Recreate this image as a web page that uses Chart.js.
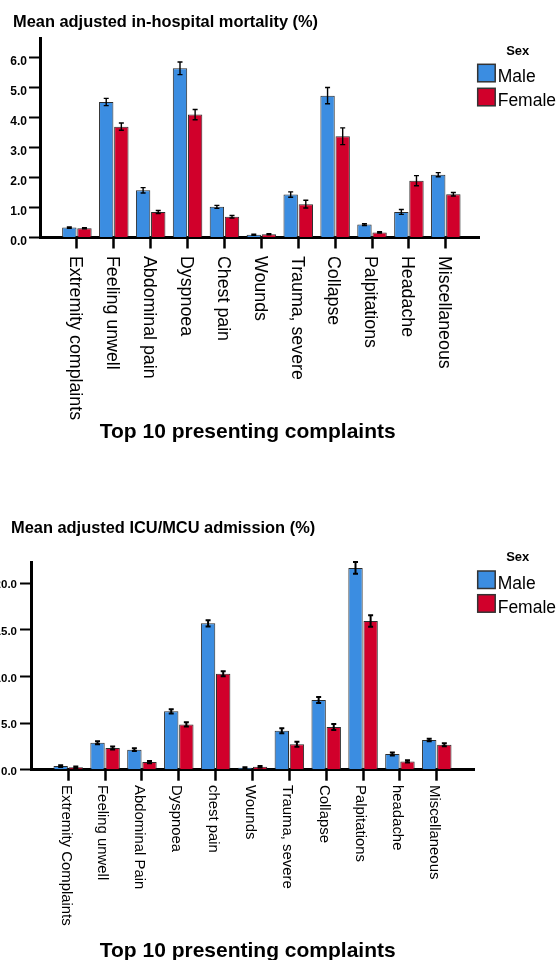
<!DOCTYPE html>
<html>
<head>
<meta charset="utf-8">
<script src="https://cdn.jsdelivr.net/npm/chart.js@4.4.0/dist/chart.umd.min.js"></script>
<style>
  html, body { margin: 0; padding: 0; background: #fff; }
  #wrap { position: relative; width: 558px; height: 960px; overflow: hidden; }
  canvas { position: absolute; left: 0; }
  #mortality { top: 0; }
  #icu { top: 480px; }
</style>
</head>
<body>
<div id="wrap">
  <canvas id="mortality" width="558" height="460"></canvas>
  <canvas id="icu" width="558" height="480"></canvas>
</div>
<script>
// --- data ---
const sexLabels = ['Male', 'Female'];

const mortalityComplaints = ['Extremity complaints', 'Feeling unwell', 'Abdominal pain', 'Dyspnoea', 'Chest pain',
    'Wounds', 'Trauma, severe', 'Collapse', 'Palpitations', 'Headache', 'Miscellaneous'];
const mortalityMale = [0.33, 4.51, 1.57, 5.63, 1.02, 0.09, 1.43, 4.72, 0.43, 0.85, 2.09];
const mortalityFemale = [0.31, 3.69, 0.85, 4.09, 0.69, 0.11, 1.11, 3.37, 0.17, 1.89, 1.44];
const mortalityMaleErr = [0.02, 0.12, 0.09, 0.21, 0.05, 0.02, 0.09, 0.27, 0.03, 0.08, 0.07];
const mortalityFemaleErr = [0.02, 0.12, 0.05, 0.17, 0.04, 0.02, 0.13, 0.28, 0.02, 0.17, 0.06];
const mortalityTicks = ['0.0', '1.0', '2.0', '3.0', '4.0', '5.0', '6.0'];

const icuComplaints = ['Extremity Complaints', 'Feeling unwell', 'Abdominal Pain', 'Dyspnoea', 'chest pain',
    'Wounds', 'Trauma, severe', 'Collapse', 'Palpitations', 'headache', 'Miscellaneous'];
const icuMale = [0.39, 2.90, 2.15, 6.26, 15.70, 0.21, 4.18, 7.47, 21.64, 1.68, 3.18];
const icuFemale = [0.25, 2.32, 0.82, 4.86, 10.30, 0.32, 2.72, 4.58, 15.95, 0.89, 2.68];
const icuMaleErr = [0.10, 0.16, 0.14, 0.23, 0.34, 0.06, 0.27, 0.32, 0.63, 0.16, 0.14];
const icuFemaleErr = [0.08, 0.16, 0.12, 0.23, 0.27, 0.08, 0.27, 0.32, 0.61, 0.12, 0.16];
const icuTicks = ['0.0', '5.0', '10.0', '15.0', '20.0'];

const FONT = '"Liberation Sans", Arial, sans-serif';
const BLUE = '#3b8de1';
const RED = '#d1002b';

// error bars drawn on top of the bars
const errorBars = {
    id: 'errorBars',
    afterDatasetsDraw(chart, args, opts) {
        const { ctx } = chart;
        const ys = chart.scales.y;
        ctx.save();
        ctx.strokeStyle = '#000';
        ctx.lineWidth = opts.width;
        chart.data.datasets.forEach((ds, di) => {
            chart.getDatasetMeta(di).data.forEach((bar, i) => {
                const v = ds.data[i].y, e = ds.errors[i];
                const top = ys.getPixelForValue(v + e);
                const bot = ys.getPixelForValue(v - e);
                ctx.beginPath();
                ctx.moveTo(bar.x, top); ctx.lineTo(bar.x, bot);
                ctx.moveTo(bar.x - opts.cap, top); ctx.lineTo(bar.x + opts.cap, top);
                ctx.moveTo(bar.x - opts.cap, bot); ctx.lineTo(bar.x + opts.cap, bot);
                ctx.stroke();
            });
        });
        ctx.restore();
    }
};

// chart title, category labels turned clockwise, axis title
const textLayer = {
    id: 'textLayer',
    afterDraw(chart, args, opts) {
        const { ctx, chartArea } = chart;
        const xs = chart.scales.x;
        ctx.save();
        ctx.fillStyle = '#000';
        ctx.textBaseline = 'alphabetic';

        ctx.font = 'bold 16.4px ' + FONT;
        ctx.textAlign = 'left';
        ctx.fillText(opts.title, opts.titleX, opts.titleY);

        ctx.font = opts.size + 'px ' + FONT;
        chart.data.labels.forEach((label, i) => {
            ctx.save();
            ctx.translate(xs.getPixelForValue(i), chartArea.bottom + opts.gap);
            ctx.rotate(Math.PI / 2);
            ctx.fillText(label, 0, opts.shift);
            ctx.restore();
        });

        ctx.font = 'bold 21px ' + FONT;
        ctx.textAlign = 'center';
        ctx.fillText(opts.axisTitle, opts.axisTitleX, opts.axisTitleY);
        ctx.restore();
    }
};

// "Sex" legend to the right
const sexLegend = {
    id: 'sexLegend',
    afterDraw(chart, args, opts) {
        const { ctx } = chart;
        ctx.save();
        ctx.fillStyle = '#000';
        ctx.textBaseline = 'alphabetic';
        ctx.font = 'bold 13px ' + FONT;
        ctx.textAlign = 'center';
        ctx.fillText(opts.title, opts.x + 40, opts.y);
        ctx.font = '17.5px ' + FONT;
        ctx.textAlign = 'left';
        chart.data.datasets.forEach((ds, i) => {
            const top = opts.y + opts.first + i * opts.row;
            ctx.fillStyle = ds.backgroundColor;
            ctx.fillRect(opts.x, top, 17.5, 17.5);
            ctx.strokeStyle = '#333';
            ctx.lineWidth = 1.5;
            ctx.strokeRect(opts.x, top, 17.5, 17.5);
            ctx.fillStyle = '#000';
            ctx.fillText(ds.label, opts.x + 20, top + 17.8);
        });
        ctx.restore();
    }
};

function points(values) {
    return values.map((v, i) => ({ x: i, y: v }));
}

function makeChart(el, cfg) {
    return new Chart(el, {
        type: 'bar',
        data: {
            labels: cfg.labels,
            datasets: [
                { label: sexLabels[0], data: points(cfg.male), errors: cfg.maleErr, backgroundColor: BLUE },
                { label: sexLabels[1], data: points(cfg.female), errors: cfg.femaleErr, backgroundColor: RED }
            ]
        },
        options: {
            responsive: false,
            animation: false,
            devicePixelRatio: 1,
            layout: { padding: { left: 0, right: cfg.padRight, top: cfg.padTop, bottom: 0 } },
            datasets: {
                bar: {
                    categoryPercentage: 0.82,
                    barPercentage: 0.95,
                    borderColor: '#2b2b2b',
                    borderWidth: 1
                }
            },
            plugins: {
                legend: { display: false },
                tooltip: { enabled: false },
                title: { display: false },
                errorBars: { width: cfg.errWidth, cap: 2.5 },
                textLayer: cfg.text,
                sexLegend: cfg.legend
            },
            scales: {
                x: {
                    type: 'linear',
                    offset: false,
                    min: cfg.xMin,
                    max: cfg.xMax,
                    ticks: { display: false, stepSize: 1, includeBounds: false },
                    afterBuildTicks: s => { s.ticks = s.ticks.filter(t => t.value >= 0 && t.value < cfg.labels.length); },
                    afterFit: s => { s.height = cfg.xHeight; },
                    grid: { display: true, offset: false, drawOnChartArea: false, drawTicks: true, tickLength: 11, tickWidth: 2.5, tickColor: '#000' },
                    border: { display: true, color: '#000', width: 3 }
                },
                y: {
                    min: 0,
                    max: cfg.yMax,
                    ticks: {
                        stepSize: cfg.yStep,
                        includeBounds: false,
                        callback: (v, i) => cfg.yTicks[i],
                        color: '#000',
                        font: { family: FONT, size: cfg.yFont, weight: 'bold' },
                        padding: cfg.yPad,
                        labelOffset: cfg.yLabelOffset
                    },
                    afterFit: s => { s.width = cfg.yWidth; },
                    grid: { display: true, drawOnChartArea: false, drawTicks: true, tickLength: 11, tickWidth: 2, tickColor: '#000' },
                    border: { display: true, color: '#000', width: 3 }
                }
            }
        },
        plugins: [errorBars, textLayer, sexLegend]
    });
}

makeChart(document.getElementById('mortality'), {
    labels: mortalityComplaints,
    male: mortalityMale, female: mortalityFemale,
    maleErr: mortalityMaleErr, femaleErr: mortalityFemaleErr,
    yTicks: mortalityTicks, yMax: 6.64, yStep: 1, yFont: 12, yPad: 2, yLabelOffset: 4, yWidth: 40,
    xMin: -1.0, xMax: 10.9, xHeight: 222.5,
    padRight: 79, padTop: 38,
    errWidth: 1.4,
    text: {
        title: 'Mean adjusted in-hospital mortality (%)', titleX: 13, titleY: 27.1,
        size: 17.8, gap: 18.5, shift: 6.7,
        axisTitle: 'Top 10 presenting complaints', axisTitleX: 247.7, axisTitleY: 438.3
    },
    legend: { title: 'Sex', x: 477.7, y: 54.5, first: 9.8, row: 24 }
});

makeChart(document.getElementById('icu'), {
    labels: icuComplaints,
    male: icuMale, female: icuFemale,
    maleErr: icuMaleErr, femaleErr: icuFemaleErr,
    yTicks: icuTicks, yMax: 22.25, yStep: 5, yFont: 11.5, yPad: 3, yLabelOffset: 2, yWidth: 31,
    xMin: -1.01, xMax: 11.01, xHeight: 190.3,
    padRight: 84, padTop: 82.3,
    errWidth: 2,
    text: {
        title: 'Mean adjusted ICU/MCU admission (%)', titleX: 11, titleY: 52.9,
        size: 14.9, gap: 15.3, shift: 6.6,
        axisTitle: 'Top 10 presenting complaints', axisTitleX: 247.7, axisTitleY: 476.7
    },
    legend: { title: 'Sex', x: 477.7, y: 80.7, first: 10.3, row: 23.7 }
});
</script>
</body>
</html>
